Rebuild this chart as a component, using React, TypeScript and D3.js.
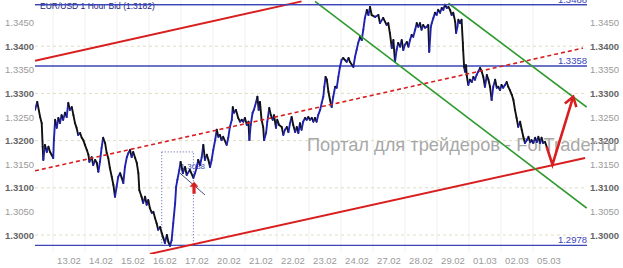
import React from "react";
import * as d3 from "d3";

// ---------- DATA ----------
const dateLabels = ["13.02","14.02","15.02","16.02","17.02","20.02","21.02","22.02","23.02","24.02","27.02","28.02","29.02","01.03","02.03","05.03"];
const yTicks = [1.3000,1.3050,1.3100,1.3150,1.3200,1.3250,1.3300,1.3350,1.3400,1.3450];
const boldTicks = [1.3000,1.3100,1.3200,1.3300,1.3400];

// [time in trading days, price]
const prices: [number, number][] = [
[0,1.3265],[0.07,1.3282],[0.16,1.3250],[0.21,1.3237],[0.24,1.3187],[0.26,1.3159],[0.31,1.3191],[0.37,1.3176],[0.42,1.3187],[0.47,1.3176],[0.52,1.3170],[0.57,1.3163],
[0.59,1.3201],[0.63,1.3244],[0.68,1.3227],[0.73,1.3248],[0.78,1.3237],[0.83,1.3254],[0.88,1.3244],[0.94,1.3259],[0.99,1.3250],[1.04,1.3280],[1.09,1.3265],[1.15,1.3271],
[1.20,1.3254],[1.25,1.3237],[1.30,1.3227],[1.35,1.3212],[1.41,1.3216],[1.46,1.3206],[1.51,1.3201],[1.56,1.3191],[1.62,1.3180],[1.67,1.3170],[1.70,1.3155],[1.77,1.3165],
[1.82,1.3148],[1.88,1.3159],[1.93,1.3153],[1.98,1.3134],[2.03,1.3155],[2.08,1.3184],[2.13,1.3206],[2.19,1.3195],[2.24,1.3174],[2.29,1.3163],[2.34,1.3142],[2.40,1.3123],
[2.45,1.3106],[2.50,1.3081],[2.55,1.3102],[2.60,1.3123],[2.66,1.3131],[2.71,1.3121],[2.76,1.3110],[2.81,1.3144],[2.87,1.3165],[2.92,1.3174],[2.97,1.3180],[3.02,1.3165],
[3.07,1.3176],[3.13,1.3163],[3.18,1.3153],[3.23,1.3131],[3.26,1.3095],[3.33,1.3081],[3.38,1.3068],[3.44,1.3081],[3.49,1.3064],[3.54,1.3074],[3.59,1.3057],[3.65,1.3047],
[3.70,1.3049],[3.75,1.3036],[3.80,1.3025],[3.85,1.3011],[3.91,1.3017],[3.96,1.3004],[4.01,1.2994],[4.06,1.2983],[4.12,1.3000],[4.17,1.2985],[4.22,1.2977],[4.27,1.2989],
[4.32,1.3025],[4.38,1.3068],[4.41,1.3102],[4.45,1.3117],[4.51,1.3138],[4.55,1.3155],[4.62,1.3131],[4.69,1.3144],[4.74,1.3127],[4.84,1.3138],[4.95,1.3121],[5.00,1.3131],
[5.05,1.3142],[5.10,1.3159],[5.16,1.3148],[5.21,1.3165],[5.26,1.3191],[5.31,1.3159],[5.37,1.3170],[5.42,1.3159],[5.47,1.3144],[5.52,1.3159],[5.57,1.3180],[5.63,1.3201],
[5.68,1.3223],[5.73,1.3208],[5.78,1.3212],[5.83,1.3201],[5.88,1.3208],[5.99,1.3191],[6.04,1.3206],[6.09,1.3229],[6.15,1.3244],[6.18,1.3271],[6.22,1.3259],[6.28,1.3265],
[6.35,1.3248],[6.41,1.3240],[6.46,1.3244],[6.51,1.3240],[6.56,1.3248],[6.62,1.3233],[6.67,1.3240],[6.70,1.3201],[6.74,1.3233],[6.80,1.3259],[6.84,1.3265],[6.91,1.3282],
[6.95,1.3293],[6.99,1.3265],[7.03,1.3282],[7.08,1.3244],[7.13,1.3229],[7.16,1.3201],[7.22,1.3216],[7.26,1.3240],[7.32,1.3269],[7.37,1.3254],[7.43,1.3244],[7.47,1.3254],
[7.53,1.3227],[7.57,1.3244],[7.63,1.3233],[7.71,1.3229],[7.76,1.3212],[7.81,1.3223],[7.87,1.3229],[7.92,1.3218],[7.97,1.3237],[8.02,1.3250],[8.07,1.3233],[8.13,1.3218],
[8.18,1.3229],[8.23,1.3216],[8.28,1.3237],[8.33,1.3223],[8.38,1.3240],[8.44,1.3248],[8.49,1.3244],[8.54,1.3250],[8.59,1.3244],[8.65,1.3248],[8.70,1.3240],[8.75,1.3248],
[8.80,1.3240],[8.85,1.3254],[8.91,1.3265],[8.96,1.3280],[9.01,1.3293],[9.04,1.3314],[9.08,1.3335],[9.12,1.3329],[9.17,1.3303],[9.22,1.3286],[9.27,1.3271],[9.32,1.3293],
[9.38,1.3314],[9.43,1.3312],[9.48,1.3335],[9.53,1.3356],[9.58,1.3371],[9.63,1.3375],[9.74,1.3367],[9.80,1.3375],[9.84,1.3367],[9.95,1.3356],[10.00,1.3377],[10.05,1.3392],
[10.10,1.3407],[10.16,1.3420],[10.21,1.3413],[10.26,1.3435],[10.31,1.3460],[10.37,1.3477],[10.42,1.3466],[10.47,1.3483],[10.52,1.3466],[10.63,1.3462],[10.73,1.3466],[10.78,1.3449],
[10.88,1.3460],[10.99,1.3445],[11.04,1.3449],[11.09,1.3428],[11.15,1.3396],[11.20,1.3413],[11.25,1.3367],[11.30,1.3392],[11.35,1.3407],[11.41,1.3399],[11.46,1.3413],[11.51,1.3392],
[11.56,1.3403],[11.62,1.3409],[11.67,1.3399],[11.72,1.3413],[11.77,1.3424],[11.82,1.3420],[11.88,1.3435],[11.93,1.3449],[11.98,1.3441],[12.03,1.3449],[12.08,1.3435],[12.13,1.3445],
[12.19,1.3439],[12.24,1.3441],[12.29,1.3445],[12.32,1.3388],[12.37,1.3441],[12.40,1.3449],[12.45,1.3460],[12.50,1.3471],[12.55,1.3466],[12.60,1.3477],[12.66,1.3471],[12.71,1.3481],
[12.76,1.3477],[12.81,1.3488],[12.87,1.3481],[12.92,1.3483],[12.97,1.3477],[13.02,1.3466],[13.07,1.3471],[13.13,1.3452],[13.16,1.3428],[13.20,1.3441],[13.23,1.3456],[13.28,1.3449],
[13.33,1.3456],[13.37,1.3407],[13.38,1.3392],[13.41,1.3356],[13.44,1.3346],[13.47,1.3360],[13.49,1.3339],[13.54,1.3318],[13.59,1.3329],[13.65,1.3324],[13.70,1.3335],[13.75,1.3329],
[13.80,1.3339],[13.85,1.3346],[13.91,1.3354],[13.96,1.3346],[14.01,1.3335],[14.06,1.3314],[14.12,1.3339],[14.17,1.3329],[14.22,1.3314],[14.27,1.3286],[14.32,1.3314],[14.38,1.3329],
[14.43,1.3312],[14.48,1.3314],[14.53,1.3307],[14.58,1.3318],[14.63,1.3312],[14.69,1.3318],[14.74,1.3324],[14.79,1.3314],[14.84,1.3307],[14.90,1.3297],[14.95,1.3286],[15.00,1.3265],
[15.05,1.3248],[15.10,1.3229],[15.16,1.3240],[15.21,1.3223],[15.26,1.3208],[15.31,1.3195],[15.37,1.3201],[15.42,1.3208],[15.47,1.3197],[15.52,1.3201],[15.57,1.3195],[15.63,1.3206],
[15.68,1.3197],[15.73,1.3208],[15.78,1.3195],[15.83,1.3206],[15.88,1.3195],[15.94,1.3197],[15.99,1.3187]
];

const levels = [1.3488, 1.3358, 1.2978];
const levelLabels = ["1.3488", "1.3358", "1.2978"];

// trend lines: [t1, p1, t2, p2]
const redSolidLines: number[][] = [[0, 1.3369, 8.33, 1.3495], [3.59, 1.2960, 17.19, 1.3163]];
const redDashedLine: number[] = [0, 1.3136, 17.125, 1.3396];
const greenLines: number[][] = [[12.92, 1.3491, 17.24, 1.3271], [8.75, 1.3495, 17.24, 1.3057]];
const boxRect: number[] = [3.96, 1.3176, 4.95, 1.2978];
const smallTrend: number[] = [4.53, 1.3131, 5.31, 1.3085];
const forecastPath: [number, number][] = [[15.99, 1.3187], [16.17, 1.3149], [16.82, 1.3293]];
const buyArrow: [number, number] = [4.97, 1.3113];

const title = "EUR/USD 1 Hour Bid (1.3182)";
const watermark = "Портал для трейдеров - ForTrader.ru";

export default function App() {
  const W = 623, H = 268;
  const x = d3.scaleLinear().domain([0, 17.25]).range([35, 587]);
  const y = d3.scaleLinear().domain([1.3, 1.345]).range([235, 22.6]);
  const font = "'Liberation Sans', Arial, sans-serif";
  const blue = "#1f22b0";
  const red = "#d81e1e";
  const green = "#2e9a2e";
  const lvl = "#3b46b8";

  const segs = prices.slice(1).map((p, i) => {
    const q = prices[i];
    return { x1: x(q[0]), y1: y(q[1]), x2: x(p[0]), y2: y(p[1]), up: p[1] >= q[1] };
  });

  const fLine = d3.line<[number, number]>().x(d => x(d[0])).y(d => y(d[1]));
  const [bt, bp] = buyArrow;
  const bx = x(bt), by = y(bp);

  return (
    <svg width={W} height={H} style={{ position: "absolute", left: 0, top: 0, background: "#fff" }} fontFamily={font}>
      <defs>
        <marker id="ah" markerUnits="userSpaceOnUse" markerWidth="14" markerHeight="14" refX="10" refY="7" orient="auto">
          <path d="M1,1 L10,7 L1,13" fill="none" stroke={red} strokeWidth="2.6" />
        </marker>
        <clipPath id="plot"><rect x={35} y={0} width={552} height={254} /></clipPath>
      </defs>
      <rect x={0} y={0} width={W} height={H} fill="#fff" />

      {/* vertical grid */}
      {dateLabels.map((d, i) => (
        <line key={"vg" + i} x1={x(i + 1.0625) - 16} x2={x(i + 1.0625) - 16} y1={0} y2={252} stroke="#f0f0f0" strokeWidth={1} />
      ))}
      {/* horizontal grid */}
      {boldTicks.map(v => (
        <line key={"hg" + v} x1={35} x2={587} y1={y(v)} y2={y(v)} stroke="#e2dcc4" strokeWidth={1} strokeDasharray="3,3" />
      ))}

      {/* y tick labels */}
      {yTicks.map(v => {
        const b = boldTicks.some(bv => Math.abs(bv - v) < 1e-6);
        return (
          <g key={"yt" + v}>
            <text x={5} y={y(v) + 3.5} fontSize={9.5} fill={b ? "#666" : "#9a9a9a"} fontWeight={b ? "bold" : "normal"}>{v.toFixed(4)}</text>
            <text x={590} y={y(v) + 3.5} fontSize={9.5} fill={b ? "#666" : "#9a9a9a"} fontWeight={b ? "bold" : "normal"}>{v.toFixed(4)}</text>
          </g>
        );
      })}
      {/* x tick labels */}
      {dateLabels.map((d, i) => (
        <text key={"xt" + d} x={x(i + 1.0625)} y={264} fontSize={9.5} fill="#9a9a9a" textAnchor="middle">{d}</text>
      ))}

      {/* watermark */}
      <text x={307} y={151} fontSize={18.5} fill="#a8a8a8" textLength={310} lengthAdjust="spacingAndGlyphs">{watermark}</text>

      {/* level lines */}
      {levels.map((v, i) => (
        <g key={"lv" + i}>
          <line x1={35} x2={587} y1={y(v)} y2={y(v)} stroke={lvl} strokeWidth={1.3} />
          <text x={587} y={y(v) - 2} fontSize={9.5} fill={lvl} textAnchor="end">{levelLabels[i]}</text>
        </g>
      ))}

      {/* box */}
      <rect x={x(boxRect[0])} y={y(boxRect[1])} width={x(boxRect[2]) - x(boxRect[0])} height={y(boxRect[3]) - y(boxRect[1])}
        fill="none" stroke="#5560b8" strokeWidth={1} strokeDasharray="1,2" />
      <line x1={x(smallTrend[0])} y1={y(smallTrend[1])} x2={x(smallTrend[2])} y2={y(smallTrend[3])} stroke="#444a77" strokeWidth={1} />
      <text x={x(4.55)} y={y(1.3140)} fontSize={8} fill="#4450b0">1.3038</text>

      <g clipPath="url(#plot)">
        {/* price */}
        {segs.map((s, i) => (
          <line key={"s" + i} x1={s.x1} y1={s.y1} x2={s.x2} y2={s.y2} stroke={s.up ? blue : "#111"} strokeWidth={1.9} strokeLinecap="round" />
        ))}
        {/* trend lines */}
        {redSolidLines.map((l, i) => (
          <line key={"rs" + i} x1={x(l[0])} y1={y(l[1])} x2={x(l[2])} y2={y(l[3])} stroke={red} strokeWidth={2} />
        ))}
        <line x1={x(redDashedLine[0])} y1={y(redDashedLine[1])} x2={x(redDashedLine[2])} y2={y(redDashedLine[3])} stroke={red} strokeWidth={1.6} strokeDasharray="4,3" />
        {greenLines.map((l, i) => (
          <line key={"g" + i} x1={x(l[0])} y1={y(l[1])} x2={x(l[2])} y2={y(l[3])} stroke={green} strokeWidth={1.6} />
        ))}
      </g>

      {/* forecast arrow */}
      <path d={fLine(forecastPath) || ""} fill="none" stroke={red} strokeWidth={2.6} markerEnd="url(#ah)" strokeLinejoin="miter" />
      {/* buy arrow */}
      <path d={`M${bx},${by} L${bx - 4.5},${by + 5} L${bx - 1.6},${by + 5} L${bx - 1.6},${by + 12} L${bx + 1.6},${by + 12} L${bx + 1.6},${by + 5} L${bx + 4.5},${by + 5} Z`} fill={red} />

      {/* title */}
      <text x={40} y={8.5} fontSize={8.5} fill="#1a237e">{title}</text>
      <line x1={35} x2={587} y1={y(levels[0])} y2={y(levels[0])} stroke={lvl} strokeWidth={1.3} />
    </svg>
  );
}
